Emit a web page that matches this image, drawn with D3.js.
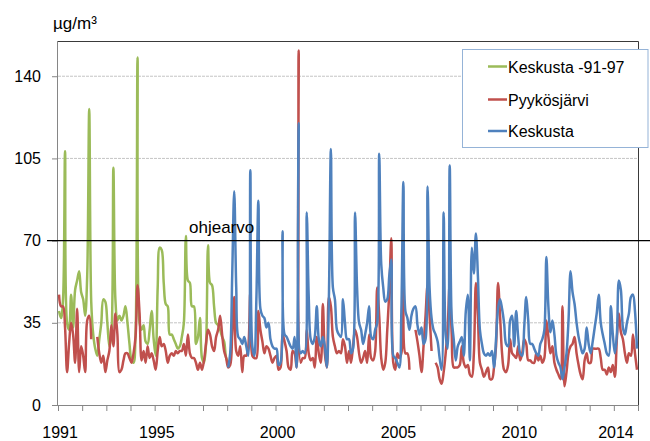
<!DOCTYPE html>
<html>
<head>
<meta charset="utf-8">
<script src="https://cdn.jsdelivr.net/npm/d3@7"></script>
<style>
  html, body { margin: 0; padding: 0; background: #fff; }
  svg { display: block; font-family: "Liberation Sans", Arial, sans-serif; }
</style>
</head>
<body>
<svg id="chart" width="650" height="441"></svg>
<script>
// ---- data: monthly PM10 means (µg/m³), months counted from January 1991 ----
const firstYear = 1991;
const monthCount = 288;                      // Jan 1991 .. Dec 2014
const yTicks = [0, 35, 70, 105, 140];
const yearLabels = [1991, 1995, 2000, 2005, 2010, 2014];
const limitValue = 70;
const limitLabel = "ohjearvo";
const unitLabel = "µg/m³";
const seriesNames = ["Keskusta -91-97", "Pyykösjärvi", "Keskusta"];
const seriesColors = ["#9bbb59", "#c0504d", "#4f81bd"];

const keskustaOldStart = 0;
const keskustaOld = [
  40, 37, 45, 108, 35, 32, 47, 33, 49, 53, 57, 48,
  45, 38, 55, 126, 44, 30, 24, 21, 28, 35, 45, 44,
  35, 25, 30, 101, 45, 36, 38, 36, 38, 42, 35, 26,
  19, 18, 30, 148, 35, 32, 34, 27, 26, 32, 40, 28,
  21, 50, 67, 66, 52, 43, 42, 30, 30, 28, 26, 24,
  25, 29, 35, 72, 53, 52, 42, 42, 26, 29, 37, 20,
  18, 26, 68, 52, 51, 42, 35, 34, 32, 29, 27, 20,
  18
];

const pyykosjarviStart = 0;
const pyykosjarvi = [
  47, 42, 42, 33, 14, 26, 35, 30, 18, 41, 14, 25,
  21, 14, 36, 38, 28, null, null, 29, 22, 18, 21, 14,
  19, 23, 34, 25, 39, 30, 14, 15, 19, 22, 22, 20,
  18, 22, 29, 51, 39, 19, 23, 18, 25, 20, 22, 19,
  15, 23, 29, 25, 26, 23, 18, 21, 22, 21, 23, 22,
  23, 23, 26, 21, 30, 22, 20, 20, 18, 15, 18, 15,
  19, 26, 32, 30, 25, 23, 29, 32, 38, 30, 23, 20,
  16, 17, 30, 46, 23, 21, 25, 14, 21, 21, 25, 48,
  21, 20, 20, 40, 32, 27, 22, 25, 24, 21, 18, 20,
  21, 15, 16, 30, 27, 23, 16, 15, 23, 22, 16, 151,
  18, 20, 20, 32, 22, 19, 20, 16, 29, 22, 18, 43,
  22, 16, 46, 42, 29, 25, 22, 23, 22, 28, 25, 18,
  23, 18, 25, 32, 29, 22, 18, 20, 23, 18, 30, 20,
  19, 23, 50, 38, 20, 15, 18, 32, 48, 71, 18, 15,
  22, 20, 22, 50, 22, 22, 15, null, null, 32, 27, 21,
  14, 25, 38, 51, 38, 23, null, 18, 16, 11, 9, 14,
  22, 33, 52, 30, 16, 16, 16, 17, 25, 18, 16, 17,
  13, 12, 22, 52, 38, 18, 15, 12, 14, 16, 11, 11,
  16, 25, 52, 38, 22, 15, 14, 17, 28, 22, 21, 20,
  25, 19, 22, 28, 26, 19, 19, 18, 18, 22, 19, 21,
  18, 20, 36, 29, 22, 25, 18, 15, 13, 11, 42, 8,
  14, 22, 25, 26, 29, 22, 17, 13, 11, 19, 22, 18,
  18, 24, 24, 24, 24, 20, 15, 15, 13, 16, 14, 17,
  12, 28, 39, 31, 28, 22, 18, 22, 21, 30, 22, 15
];

const keskustaStart = 84;                    // January 1998
const keskusta = [
  16, 22, 55, 91, 50, 29, 28, 26, 29, 25, 21, 100,
  25, 21, 45, 87, 41, 38, 37, 33, 35, 28, 25, 24,
  24, 17, 18, 74, 30, 29, 27, 25, 24, 29, 16, 120,
  22, 23, 22, 82, 46, 28, 26, 29, 42, 28, 25, 29,
  25, 16, 45, 109, 50, 45, 32, 30, 29, 45, 35, 28,
  28, 22, 24, 82, 50, 35, 32, 26, 30, 35, 42, 29,
  28, 32, 35, 107, 60, 50, 44, 45, 55, 62, 21, 20,
  18, 16, 40, 95, 40, 37, 32, 38, 41, 42, 34, 30,
  33, 26, 28, 93, 50, 37, 32, 30, 27, 20, 15, 82,
  30, 24, 102, 37, 28, 19, 25, 27, 29, 21, 40, 47,
  19, 67, 56, 73, 55, 32, 26, 22, 21, 22, 21, 23,
  16, 28, 41, 45, 41, 35, 26, 25, 36, 38, 25, 40,
  29, 22, 21, 33, 46, 36, 26, 26, 24, 22, 21, 26,
  28, 32, 63, 42, 31, 36, 30, 21, 18, 16, 11, 16,
  22, 36, 57, 48, 43, 35, 29, 25, 22, 24, 33, 26,
  22, 27, 33, 39, 47, 35, 30, 26, 22, 21, 42, 30,
  22, 30, 53, 49, 33, 30, 35, 39, 46, 47, 40, 24
];

// ---- layout ----
const plot = { left: 58, right: 638, top: 41, bottom: 405 };
const svg = d3.select("#chart");

const x = d3.scaleLinear().domain([0, monthCount]).range([plot.left, plot.right]);
const y = d3.scaleLinear().domain([0, 155]).range([plot.bottom, plot.top]);

// horizontal gridlines
svg.append("g")
  .selectAll("line")
  .data(yTicks.filter(v => v > 0))
  .join("line")
  .attr("x1", plot.left).attr("x2", plot.right)
  .attr("y1", d => y(d)).attr("y2", d => y(d))
  .attr("stroke", "#c4c4c4").attr("stroke-width", 1)
  .attr("stroke-dasharray", "3,1");

// plot frame (top and right)
svg.append("path")
  .attr("d", `M${plot.left},${plot.top + 0.5}H${plot.right + 0.5}V${plot.bottom}`)
  .attr("fill", "none").attr("stroke", "#3a3a3a").attr("stroke-width", 1);

// y axis
const yAxis = svg.append("g")
  .attr("transform", `translate(${plot.left},0)`)
  .call(d3.axisLeft(y).tickValues(yTicks).tickSize(6).tickPadding(11).tickFormat(d3.format("d")));
yAxis.select(".domain").attr("stroke", "#868686").attr("d", `M-0.5,${plot.top}V${plot.bottom}`);
yAxis.selectAll(".tick line").attr("stroke", "#868686");
yAxis.selectAll(".tick text").attr("font-size", 16).attr("fill", "#000")
  .attr("font-family", "Liberation Sans, Arial, sans-serif");

// x axis: one tick per year boundary
const yearTicks = d3.range(0, monthCount + 1, 12);
const xAxis = svg.append("g")
  .attr("transform", `translate(0,${plot.bottom})`)
  .call(d3.axisBottom(x).tickValues(yearTicks).tickSize(6).tickPadding(16)
    .tickFormat(d => {
      const yr = firstYear + d / 12;
      return yearLabels.includes(yr) ? String(yr) : "";
    }));
xAxis.select(".domain").attr("stroke", "#868686").attr("d", `M${plot.left},0.5H${plot.right}`);
xAxis.selectAll(".tick line").attr("stroke", "#868686");
xAxis.selectAll(".tick text").attr("font-size", 16).attr("fill", "#000")
  .attr("dx", "0.1em")
  .attr("font-family", "Liberation Sans, Arial, sans-serif");

// series lines
function toPoints(values, start) {
  return values.map((v, k) => ({ m: start + k, v }));
}
const line = d3.line()
  .defined(d => d.v !== null)
  .x(d => x(d.m + 0.5))
  .y(d => y(d.v))
  .curve(d3.curveCatmullRom.alpha(0.5));

const series = [
  { name: seriesNames[0], color: seriesColors[0], pts: toPoints(keskustaOld, keskustaOldStart) },
  { name: seriesNames[1], color: seriesColors[1], pts: toPoints(pyykosjarvi, pyykosjarviStart) },
  { name: seriesNames[2], color: seriesColors[2], pts: toPoints(keskusta, keskustaStart) }
];

svg.append("g")
  .selectAll("path")
  .data(series)
  .join("path")
  .attr("d", d => line(d.pts))
  .attr("fill", "none")
  .attr("stroke", d => d.color)
  .attr("stroke-width", 2.5)
  .attr("stroke-linejoin", "round");

// limit value line and its label
svg.append("line")
  .attr("x1", 47).attr("x2", 650)
  .attr("y1", y(limitValue)).attr("y2", y(limitValue))
  .attr("stroke", "#000").attr("stroke-width", 1.3);
svg.append("text")
  .attr("x", 189).attr("y", y(limitValue) - 7.5)
  .attr("font-size", 17).attr("fill", "#000")
  .text(limitLabel);

// unit
svg.append("text")
  .attr("x", 53).attr("y", 29)
  .attr("font-size", 17).attr("fill", "#000")
  .text(unitLabel);

// legend
const legend = svg.append("g");
legend.append("rect")
  .attr("x", 462.5).attr("y", 49.5).attr("width", 185.5).attr("height", 98)
  .attr("fill", "#fff").attr("stroke", "#95b3d7").attr("stroke-width", 1);
const rowY = [66.5, 99.5, 131];
series.forEach((s, k) => {
  legend.append("line")
    .attr("x1", 488).attr("x2", 507)
    .attr("y1", rowY[k]).attr("y2", rowY[k])
    .attr("stroke", s.color).attr("stroke-width", 2.5);
  legend.append("text")
    .attr("x", 508).attr("y", rowY[k] + 6)
    .attr("font-size", 16).attr("fill", "#000")
    .text(s.name);
});
</script>
</body>
</html>
